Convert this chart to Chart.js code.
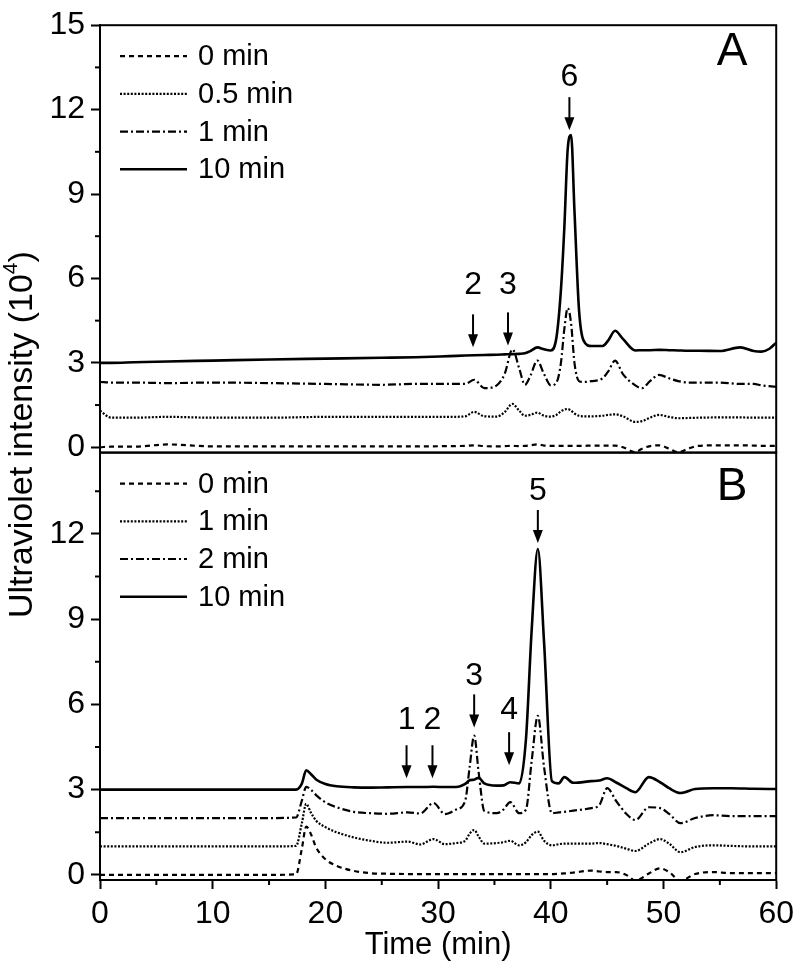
<!DOCTYPE html>
<html lang="en">
<head>
<meta charset="UTF-8">
<title>UV chromatograms</title>
<style>
  body { margin: 0; background: #fff; }
  #wrap { width: 800px; height: 971px; }
</style>
</head>
<body>
<div id="wrap"><canvas id="uvChart" width="800" height="971"></canvas></div>
<script src="https://cdn.jsdelivr.net/npm/chart.js@4.4.0/dist/chart.umd.min.js"></script>
<script>
const FONT = "'Liberation Sans', Arial, sans-serif";

// ---- panel A (reaction times 0, 0.5, 1, 10 min) ----
const timeA = [0, 1, 3, 6, 10, 15, 20, 25, 28, 31, 32.4, 33.2, 34.1, 35.2, 35.9,
  36.6, 37.2, 37.7, 38.2, 38.8, 39.4, 40.0, 40.5, 40.9, 41.2, 41.5, 41.8, 42.1, 42.5, 42.9,
  43.6, 44.6, 45.1, 45.7, 46.4, 47.5, 48.1, 48.8, 49.6, 50.5, 51.3, 52.2, 53.1, 55, 56.8,
  58, 58.7, 59.4, 60];
const a0 = [0.00, 0.02, 0.02, 0.10, 0.03, 0.03, 0.03, 0.03, 0.03, 0.04,
  0.05, 0.07, 0.04, 0.03, 0.04, 0.05, 0.04, 0.05, 0.07, 0.10,
  0.06, 0.05, 0.05, 0.05, 0.05, 0.05, 0.05, 0.05, 0.05, 0.05,
  0.06, 0.06, 0.06, 0.06, 0.00, -0.17, -0.05, 0.04, 0.07, -0.05,
  -0.18, -0.05, 0.05, 0.07, 0.07, 0.06, 0.05, 0.05, 0.05];
const a05 = [1.30, 1.05, 1.05, 1.08, 1.05, 1.05, 1.08, 1.08, 1.08, 1.08,
  1.10, 1.26, 1.10, 1.09, 1.25, 1.54, 1.30, 1.12, 1.15, 1.23,
  1.12, 1.09, 1.15, 1.28, 1.34, 1.36, 1.30, 1.20, 1.12, 1.10,
  1.10, 1.12, 1.15, 1.17, 1.10, 0.90, 0.93, 1.05, 1.15, 1.08,
  1.03, 1.04, 1.05, 1.06, 1.06, 1.05, 1.05, 1.05, 1.05];
const a1 = [2.32, 2.30, 2.30, 2.28, 2.30, 2.28, 2.25, 2.22, 2.25, 2.25,
  2.25, 2.40, 2.10, 2.20, 2.60, 3.48, 2.80, 2.22, 2.55, 3.08,
  2.60, 2.20, 2.30, 3.00, 4.20, 4.95, 4.40, 3.00, 2.35, 2.32,
  2.35, 2.45, 2.70, 3.08, 2.60, 2.20, 2.10, 2.35, 2.57, 2.45,
  2.35, 2.30, 2.30, 2.30, 2.25, 2.25, 2.20, 2.17, 2.15];
const a10 = [3.00, 3.00, 3.02, 3.05, 3.08, 3.12, 3.15, 3.18, 3.20, 3.24,
  3.26, 3.27, 3.28, 3.29, 3.30, 3.31, 3.32, 3.34, 3.42, 3.55,
  3.48, 3.44, 3.90, 5.60, 7.80, 10.60, 11.10, 8.40, 4.90, 3.80,
  3.60, 3.60, 3.80, 4.14, 3.85, 3.44, 3.45, 3.45, 3.46, 3.45,
  3.44, 3.43, 3.43, 3.42, 3.55, 3.42, 3.40, 3.50, 3.72];
const labelsA = ['0 min', '0.5 min', '1 min', '10 min'];

// ---- panel B (reaction times 0, 1, 2, 10 min) ----
const timeB = [0, 5, 10, 15, 17.4, 17.9, 18.3, 18.7, 19.2, 20, 21, 22.5, 24, 25.5, 27.3,
  28.4, 29.6, 30.6, 31.6, 32.4, 32.8, 33.2, 33.6, 34.1, 35.2, 35.8, 36.4, 37.2, 37.8, 38.3,
  38.85, 39.4, 40.1, 40.7, 41.2, 42, 43.6, 44.3, 45, 45.8, 46.7, 47.5, 48.7, 49.7, 50.5,
  51.5, 52.8, 54.4, 56, 58, 60];
const b0 = [0.00, 0.00, 0.00, 0.00, 0.02, 0.90, 1.70, 1.45, 0.95, 0.55,
  0.32, 0.14, 0.06, 0.04, 0.03, 0.03, 0.03, 0.03, 0.03, 0.03,
  0.03, 0.03, 0.03, 0.03, 0.03, 0.03, 0.03, 0.03, 0.03, 0.03,
  0.03, 0.03, 0.03, 0.04, 0.05, 0.08, 0.15, 0.12, 0.10, 0.10,
  0.00, -0.20, 0.05, 0.23, 0.10, -0.20, 0.03, 0.10, 0.06, 0.06, 0.06];
const b1 = [1.00, 1.00, 1.00, 1.00, 1.02, 1.80, 2.50, 2.20, 1.90, 1.68,
  1.50, 1.32, 1.20, 1.13, 1.17, 1.07, 1.26, 1.08, 1.12, 1.20,
  1.45, 1.58, 1.35, 1.10, 1.12, 1.15, 1.20, 1.04, 1.15, 1.40,
  1.52, 1.20, 1.04, 1.08, 1.10, 1.10, 1.10, 1.12, 1.08, 1.02,
  0.92, 0.84, 1.10, 1.26, 1.10, 0.80, 0.98, 1.04, 1.02, 1.00, 1.00];
const b2 = [2.00, 2.00, 2.00, 2.00, 2.02, 2.60, 3.10, 3.00, 2.80, 2.55,
  2.38, 2.22, 2.17, 2.15, 2.20, 2.16, 2.53, 2.14, 2.30, 2.60,
  3.80, 4.90, 3.60, 2.25, 2.17, 2.30, 2.56, 2.17, 2.30, 4.00,
  5.60, 3.80, 2.17, 2.20, 2.22, 2.26, 2.35, 2.45, 3.05, 2.60,
  2.15, 1.93, 2.38, 2.35, 2.15, 1.82, 2.00, 2.10, 2.07, 2.07, 2.07];
const b10 = [3.00, 3.00, 3.00, 3.00, 3.00, 3.20, 3.68, 3.55, 3.35, 3.20,
  3.12, 3.08, 3.07, 3.08, 3.09, 3.09, 3.10, 3.09, 3.09, 3.20,
  3.33, 3.35, 3.42, 3.22, 3.14, 3.15, 3.26, 3.22, 4.80, 8.60,
  11.47, 8.20, 3.30, 3.22, 3.44, 3.24, 3.30, 3.32, 3.40, 3.25,
  3.05, 2.91, 3.44, 3.26, 3.05, 2.88, 3.02, 3.05, 3.05, 3.03, 3.02];
const labelsB = ['0 min', '1 min', '2 min', '10 min'];

// peak markers: label, time (min), arrow tip value, label centre value
const peaksA = [['2', 33.1, 3.55, 5.75], ['3', 36.2, 3.62, 5.75], ['6', 41.65, 11.27, 13.15]];
const peaksB = [['1', 27.2, 3.4, 5.45], ['2', 29.5, 3.4, 5.45], ['3', 33.2, 5.19, 7.0],
  ['4', 36.3, 3.86, 5.78], ['5', 38.85, 11.68, 13.5]];

// line styles: dashed, dotted, dash-dot, solid
const dashes = [[5, 4], [2, 1.6], [8, 3, 2, 3], []];
const widths = [2.2, 2.2, 2.2, 2.6];

function series(times, values, label, i, axis) {
  return {
    label: label,
    data: times.map((t, k) => ({ x: t, y: values[k] })),
    yAxisID: axis,
    borderColor: '#000',
    borderWidth: widths[i],
    borderDash: dashes[i],
    pointRadius: 0,
    cubicInterpolationMode: 'monotone',
    fill: false
  };
}

const panels = [
  { axis: 'yA', letter: 'A', letterDy: 27, labels: labelsA, peaks: peaksA },
  { axis: 'yB', letter: 'B', letterDy: 35, labels: labelsB, peaks: peaksB }
];

const datasets = [
  series(timeA, a0, labelsA[0], 0, 'yA'),
  series(timeA, a05, labelsA[1], 1, 'yA'),
  series(timeA, a1, labelsA[2], 2, 'yA'),
  series(timeA, a10, labelsA[3], 3, 'yA'),
  series(timeB, b0, labelsB[0], 0, 'yB'),
  series(timeB, b1, labelsB[1], 1, 'yB'),
  series(timeB, b2, labelsB[2], 2, 'yB'),
  series(timeB, b10, labelsB[3], 3, 'yB')
];

const isMajorY = v => Math.abs(v % 3) < 1e-6;
const isMajorX = v => Math.abs(v % 10) < 1e-6;

function yScale(min, max) {
  return {
    type: 'linear',
    position: 'left',
    stack: 'uv',
    stackWeight: 1,
    min: min,
    max: max,
    border: { color: '#000', width: 2 },
    grid: {
      drawOnChartArea: false,
      tickLength: 9,
      tickWidth: 2,
      tickColor: c => isMajorY(c.tick.value) ? '#000' : 'rgba(0,0,0,0)'
    },
    ticks: {
      stepSize: 1.5,
      includeBounds: false,
      autoSkip: false,
      padding: 6,
      color: '#000',
      font: { size: 32, family: FONT },
      callback: v => isMajorY(v) ? String(v) : ''
    },
    afterFit: s => { s.width = 100; }
  };
}

// frames, minor ticks, legends, arrows, panel letters, y title
const decor = {
  id: 'decor',
  afterDatasetsDraw(chart) {
    const ctx = chart.ctx;
    const xs = chart.scales.x;
    ctx.save();
    ctx.strokeStyle = '#000';
    ctx.fillStyle = '#000';
    ctx.lineWidth = 2;

    // minor ticks
    xs.ticks.forEach(t => {
      if (isMajorX(t.value)) return;
      const px = xs.getPixelForValue(t.value);
      ctx.beginPath(); ctx.moveTo(px, xs.top); ctx.lineTo(px, xs.top + 5); ctx.stroke();
    });

    panels.forEach(p => {
      const ys = chart.scales[p.axis];
      ctx.lineWidth = 2;
      ys.ticks.forEach(t => {
        if (isMajorY(t.value)) return;
        const py = ys.getPixelForValue(t.value);
        ctx.beginPath(); ctx.moveTo(ys.right - 5, py); ctx.lineTo(ys.right, py); ctx.stroke();
      });

      // frame
      ctx.setLineDash([]);
      ctx.strokeRect(xs.left, ys.top, xs.right - xs.left, ys.bottom - ys.top);

      // legend
      ctx.font = '29px ' + FONT;
      ctx.textAlign = 'left';
      ctx.textBaseline = 'middle';
      p.labels.forEach((lab, i) => {
        const ly = ys.top + 31 + i * 37.7;
        ctx.setLineDash(dashes[i]);
        ctx.lineWidth = widths[i];
        ctx.beginPath(); ctx.moveTo(xs.left + 20, ly); ctx.lineTo(xs.left + 87, ly); ctx.stroke();
        ctx.setLineDash([]);
        ctx.fillText(lab, xs.left + 98, ly + 1);
      });

      // panel letter
      ctx.font = '46px ' + FONT;
      ctx.textAlign = 'center';
      ctx.fillText(p.letter, xs.right - 44, ys.top + p.letterDy);

      // peak arrows
      ctx.lineWidth = 2;
      p.peaks.forEach(pk => {
        const px = xs.getPixelForValue(pk[1]);
        const tip = ys.getPixelForValue(pk[2]);
        ctx.beginPath(); ctx.moveTo(px, tip - 33); ctx.lineTo(px, tip - 10); ctx.stroke();
        ctx.beginPath();
        ctx.moveTo(px - 5, tip - 13); ctx.lineTo(px + 5, tip - 13); ctx.lineTo(px, tip);
        ctx.closePath(); ctx.fill();
        ctx.font = '32px ' + FONT;
        ctx.textAlign = 'center';
        ctx.fillText(pk[0], px, ys.getPixelForValue(pk[3]));
      });
    });

    // shared y title
    const yA = chart.scales.yA, yB = chart.scales.yB;
    const cy = (yA.top + yB.bottom) / 2 - 18;
    ctx.translate(23, cy);
    ctx.rotate(-Math.PI / 2);
    ctx.textAlign = 'left';
    ctx.textBaseline = 'middle';
    const main = 'Ultraviolet intensity (10';
    ctx.font = '34px ' + FONT;
    const w1 = ctx.measureText(main).width;
    const w3 = ctx.measureText(')').width;
    ctx.font = '21px ' + FONT;
    const w2 = ctx.measureText('4').width;
    const x0 = -(w1 + w2 + w3) / 2;
    ctx.font = '34px ' + FONT;
    ctx.fillText(main, x0, 0);
    ctx.fillText(')', x0 + w1 + w2, 0);
    ctx.font = '21px ' + FONT;
    ctx.fillText('4', x0 + w1, -12);
    ctx.restore();
  }
};

new Chart(document.getElementById('uvChart'), {
  type: 'line',
  data: { datasets: datasets },
  options: {
    responsive: false,
    animation: false,
    layout: { padding: { top: 19, right: 22, left: 0, bottom: 0 } },
    plugins: { legend: { display: false }, tooltip: { enabled: false } },
    scales: {
      x: {
        type: 'linear',
        min: 0,
        max: 60,
        border: { color: '#000', width: 2 },
        grid: {
          drawOnChartArea: false,
          tickLength: 9,
          tickWidth: 2,
          tickColor: c => isMajorX(c.tick.value) ? '#000' : 'rgba(0,0,0,0)'
        },
        ticks: {
          stepSize: 5,
          autoSkip: false,
          maxRotation: 0,
          padding: 6,
          color: '#000',
          font: { size: 32, family: FONT },
          callback: v => isMajorX(v) ? String(v) : ''
        },
        title: {
          display: true,
          text: 'Time (min)',
          color: '#000',
          font: { size: 31, family: FONT },
          padding: { top: 0, bottom: 7 }
        },
        afterFit: s => { s.height = 91; }
      },
      yB: yScale(-0.18, 14.86),
      yA: yScale(-0.19, 15)
    }
  },
  plugins: [decor]
});
</script>
</body>
</html>
